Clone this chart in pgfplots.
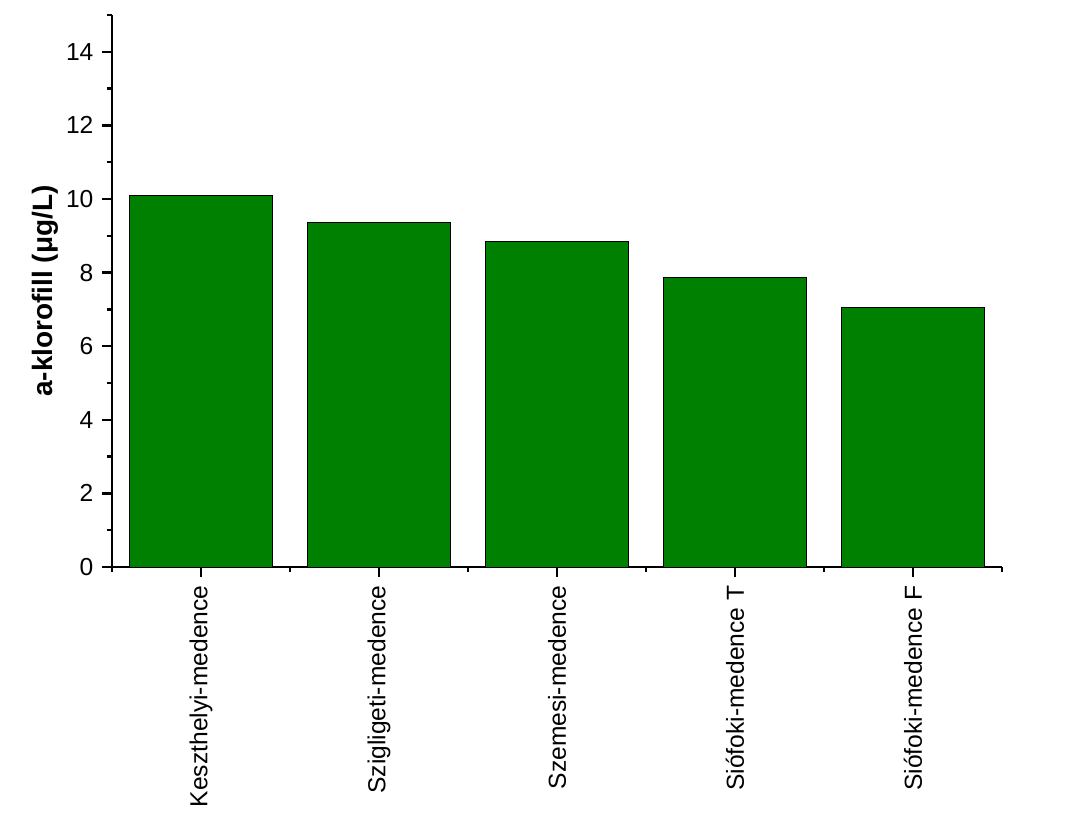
\documentclass[border=0pt]{standalone}
\usepackage{fontspec}
\setmainfont{Liberation Sans}
\usepackage{pgfplots}
\pgfplotsset{compat=1.18}
\definecolor{bargreen}{RGB}{0,128,0}
\begin{document}
\fontsize{12.3}{14}\selectfont
\begin{tikzpicture}
\useasboundingbox (-56pt,-127pt) rectangle (480pt,283.5pt);
\begin{axis}[
  at={(0,0)}, anchor=south west,
  scale only axis,
  width=445pt, height=276pt,
  xmin=-0.5, xmax=4.5,
  ymin=0, ymax=15,
  axis x line*=bottom, axis y line*=left,
  axis line style={-, line width=1.3pt},
  xtick={0,1,2,3,4},
  xticklabels={Keszthelyi-medence,Szigligeti-medence,Szemesi-medence,Siófoki-medence T,Siófoki-medence F},
  minor xtick={-0.5,0.5,1.5,2.5,3.5,4.5},
  ytick={0,2,4,6,8,10,12,14},
  minor ytick={1,3,5,7,9,11,13,15},
  tick align=outside,
  major tick length=5pt,
  minor tick length=2.5pt,
  tick style={black, line width=1.2pt},
  x tick label style={rotate=90, anchor=east, font=\fontsize{12.3}{14}\selectfont},
  y tick label style={font=\fontsize{12.3}{14}\selectfont},
  /pgf/number format/assume math mode=true,
  ylabel={\textbf{a-klorofill (μg/L)}},
  ylabel style={at={(axis description cs:-0.0753,0.5)}, anchor=center, font=\fontsize{14}{16}\selectfont},
  ybar, bar width=0.8,
]
\addplot[fill=bargreen, draw=black, line width=0.5pt] coordinates {(0,10.10) (1,9.35) (2,8.84) (3,7.86) (4,7.05)};
\end{axis}
\end{tikzpicture}
\end{document}
